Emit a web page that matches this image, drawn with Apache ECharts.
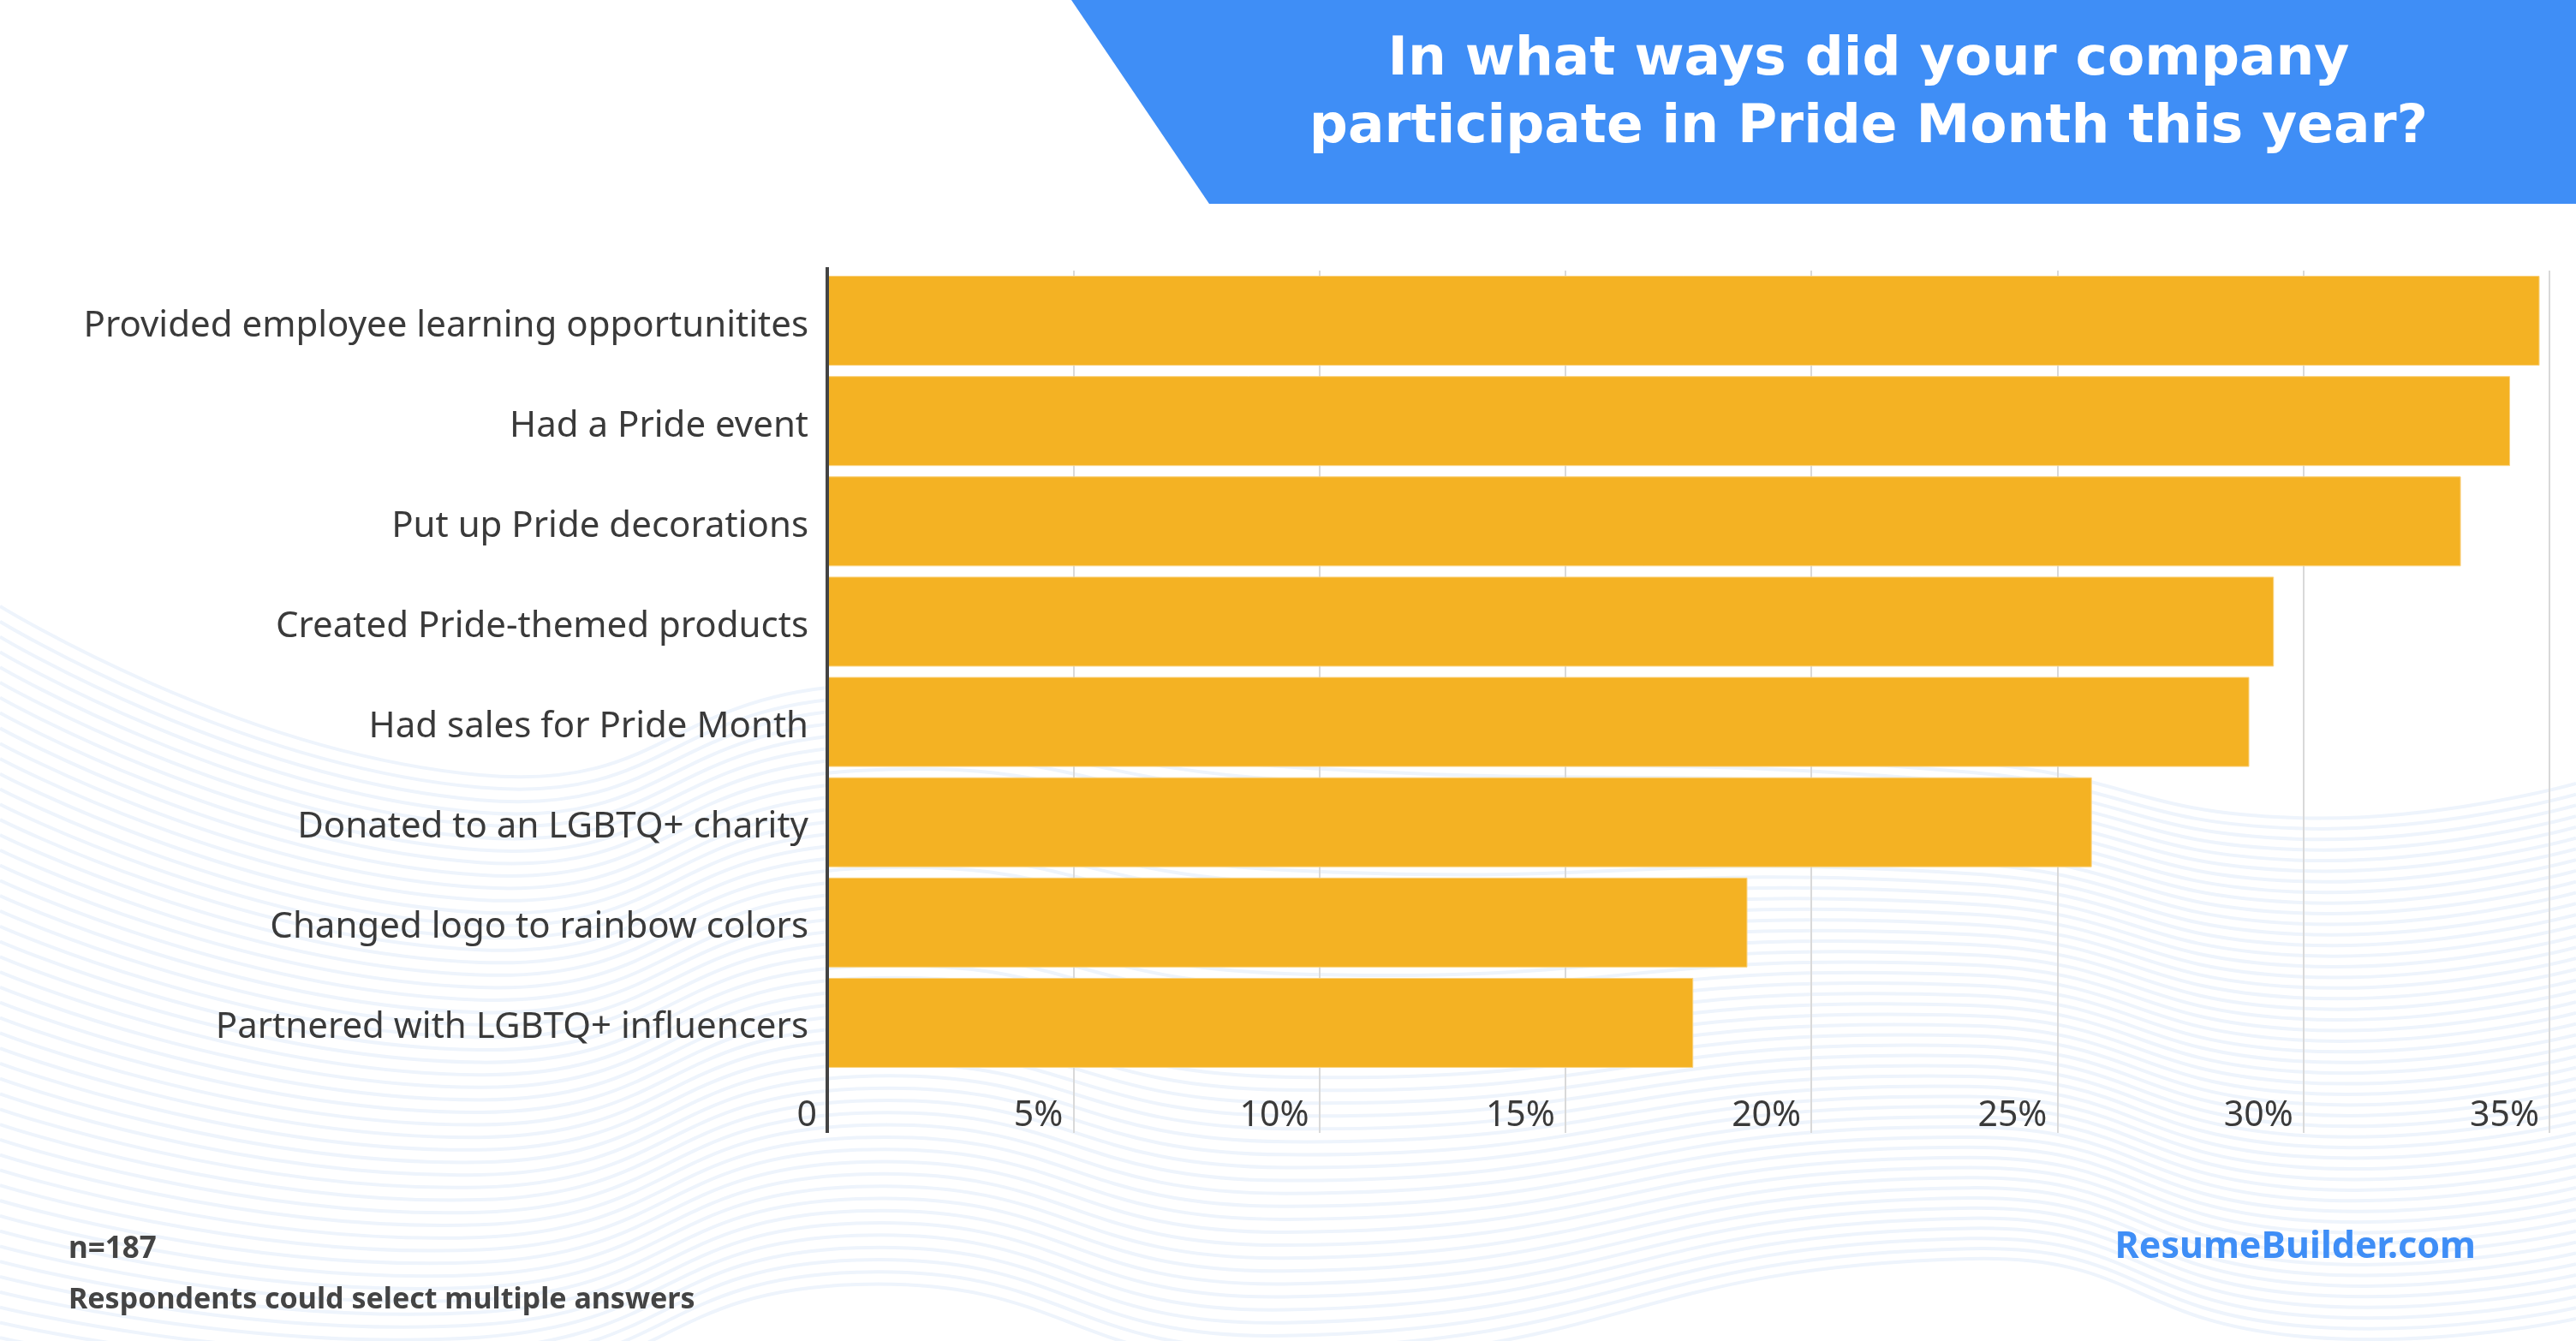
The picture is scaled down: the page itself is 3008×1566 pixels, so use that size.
<!DOCTYPE html>
<html>
<head>
<meta charset="utf-8">
<script src="https://cdn.jsdelivr.net/npm/echarts@6/dist/echarts.min.js"></script>
<style>
  html, body { margin: 0; padding: 0; background: #fff; }
  #chart { width: 3008px; height: 1566px; }
</style>
</head>
<body>
<div id="chart"></div>
<script>
// données (part des entreprises, en %)
const categories = [
    'Provided employee learning opportunitites',
    'Had a Pride event',
    'Put up Pride decorations',
    'Created Pride-themed products',
    'Had sales for Pride Month',
    'Donated to an LGBTQ+ charity',
    'Changed logo to rainbow colors',
    'Partnered with LGBTQ+ influencers'
];
const shares = [34.8, 34.2, 33.2, 29.4, 28.9, 25.7, 18.7, 17.6];
const axisMin = 0;
const axisMax = 35;
const axisStep = 5;

const titleLines = ['In what ways did your company', 'participate in Pride Month this year?'];
const footNotes = ['n=187', 'Respondents could select multiple answers'];
const brand = 'ResumeBuilder.com';

var dom = document.getElementById('chart');
var myChart = echarts.init(dom, null, { renderer: 'canvas', useDirtyRect: false });

const BLUE = '#3f8ef6';
const GRID_LEFT = 966;
const GRID_TOP = 316;
const GRID_H = 937;

// vagues décoratives du fond (simple déco, pas des données)
const waveTop = [[0, 708], [560, 905], [1000, 800], [1500, 850], [2300, 890], [2680, 955], [3008, 915]];
const waveBottom = [[0, 1580], [560, 1620], [1000, 1500], [1500, 1590], [2300, 1470], [2680, 1560], [3008, 1540]];
const waves = [];
const nWaves = 50;
for (let k = 0; k < nWaves; k++) {
    const t = k / (nWaves - 1);
    const pts = waveTop.map(function (p, i) {
        return [p[0], p[1] + (waveBottom[i][1] - p[1]) * t];
    });
    waves.push({
        type: 'polyline',
        z: -10,
        silent: true,
        shape: { points: pts, smooth: 0.5 },
        style: { stroke: '#eef4fc', lineWidth: 4, fill: null }
    });
}

const option = {
    backgroundColor: '#fff',
    grid: {
        left: GRID_LEFT,
        right: 31,
        top: GRID_TOP,
        height: GRID_H,
        containLabel: false
    },
    xAxis: {
        type: 'value',
        min: axisMin,
        max: axisMax,
        interval: axisStep,
        axisLine: { show: false },
        axisTick: {
            show: true,
            length: 70,
            lineStyle: { color: '#d9d9d9', width: 2 }
        },
        splitLine: {
            show: true,
            lineStyle: { color: '#d9d9d9', width: 2 }
        },
        axisLabel: {
            fontFamily: 'Noto Sans',
            fontSize: 41,
            color: '#3a3a3a',
            align: 'right',
            margin: 30,
            padding: [0, 12, 0, 0],
            formatter: function (v) { return v === 0 ? '0' : v + '%'; }
        }
    },
    yAxis: {
        type: 'category',
        inverse: true,
        data: categories,
        axisLine: { show: true, lineStyle: { color: '#444', width: 4 } },
        axisTick: { show: false },
        axisLabel: {
            fontFamily: 'Noto Sans',
            fontSize: 42,
            color: '#3a3a3a',
            margin: 22,
            verticalAlign: 'top',
            lineHeight: 12
        }
    },
    series: [
        {
            type: 'bar',
            data: shares,
            barWidth: 105,
            itemStyle: {
                color: '#f4b223',
                borderColor: '#f9d27e',
                borderWidth: 1
            }
        }
    ],
    graphic: waves.concat([
        {
            type: 'line',
            z: 5,
            shape: { x1: GRID_LEFT, y1: 312, x2: GRID_LEFT, y2: 1323 },
            style: { stroke: '#444', lineWidth: 4 }
        },
        {
            type: 'polygon',
            z: 1,
            shape: { points: [[1251, 0], [3008, 0], [3008, 238], [1412, 238]] },
            style: { fill: BLUE }
        },
        {
            type: 'text',
            z: 2,
            x: 2182,
            y: 71,
            style: {
                text: titleLines[0],
                fill: '#fff',
                font: 'bold 63px "DejaVu Sans"',
                align: 'center',
                verticalAlign: 'middle'
            }
        },
        {
            type: 'text',
            z: 2,
            x: 2182,
            y: 150,
            style: {
                text: titleLines[1],
                fill: '#fff',
                font: 'bold 63px "DejaVu Sans"',
                align: 'center',
                verticalAlign: 'middle'
            }
        },
        {
            type: 'text',
            x: 80,
            y: 1459,
            style: {
                text: footNotes[0],
                fill: '#444',
                font: 'bold 35px "Noto Sans"',
                verticalAlign: 'middle'
            }
        },
        {
            type: 'text',
            x: 80,
            y: 1518,
            style: {
                text: footNotes[1],
                fill: '#444',
                font: 'bold 34px "Noto Sans"',
                verticalAlign: 'middle'
            }
        },
        {
            type: 'text',
            x: 2891,
            y: 1457,
            style: {
                text: brand,
                fill: BLUE,
                font: 'bold 43px "Noto Sans"',
                align: 'right',
                verticalAlign: 'middle'
            }
        }
    ])
};

if (option && typeof option === 'object') {
    myChart.setOption(option);
}

window.addEventListener('resize', myChart.resize);
</script>
</body>
</html>
